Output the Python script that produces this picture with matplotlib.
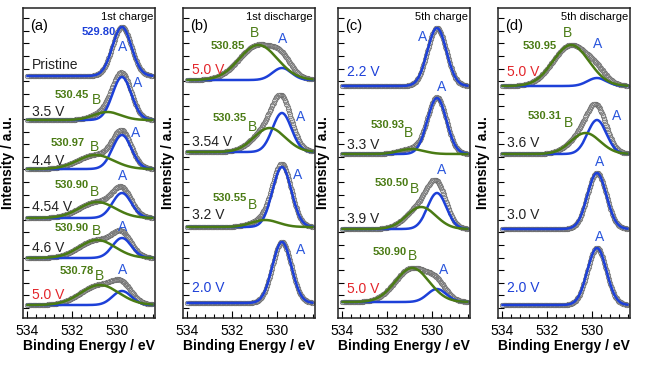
import numpy as np
import matplotlib.pyplot as plt
from matplotlib.ticker import MultipleLocator, FixedLocator

plt.rcParams['font.family'] = ['Liberation Sans', 'DejaVu Sans']

BLUE = '#1d40d8'
GREEN = '#4a7b14'
RED = '#e3262b'

# fitted O 1s components: A fixed at 529.80 eV, B position from the labels
POS_A = 529.80
WID_A = 0.42
energy = np.arange(528.45, 534.0001, 0.025)

# each panel lists its spectra from bottom to top
a_volts = ['5.0 V', '4.6 V', '4.54 V', '4.4 V', '3.5 V', 'Pristine']
a_offset = [13, 60, 100, 149, 198, 242]
a_amp_A = [14, 20, 25, 34, 43, 49]
a_pos_B = [530.78, 530.90, 530.90, 530.97, 530.45, None]
a_amp_B = [20, 18, 16, 14, 8, 0]
a_wid_B = [0.85, 0.8, 0.8, 0.8, 0.6, 0]

b_volts = ['2.0 V', '3.2 V', '3.54 V', '5.0 V']
b_offset = [15, 91, 166, 238]
b_amp_A = [61, 60, 39, 12]
b_pos_B = [None, 530.55, 530.35, 530.85]
b_amp_B = [0, 7, 24, 35]
b_wid_B = [0, 0.6, 0.7, 0.85]

c_volts = ['5.0 V', '3.9 V', '3.3 V', '2.2 V']
c_offset = [16, 89, 164, 232]
c_amp_A = [13, 36, 56, 58]
c_pos_B = [530.90, 530.50, 530.93, None]
c_amp_B = [34, 22, 5, 0]
c_wid_B = [0.75, 0.65, 0.55, 0]

d_volts = ['2.0 V', '3.0 V', '3.6 V', '5.0 V']
d_offset = [13, 89, 164, 232]
d_amp_A = [57, 56, 34, 8]
d_pos_B = [None, None, 530.31, 530.95]
d_amp_B = [0, 0, 21, 41]
d_wid_B = [0, 0, 0.65, 0.8]

# ---- layout (label positions in data coords) ----
a_volt_col = ['red', 'k', 'k', 'k', 'k', 'k']
a_volt_y = [23, 70, 111, 157, 206, 253]
a_val_xy = [(531.8, 47), (532.02, 90), (532.02, 133), (532.2, 175), (532.02, 223), (530.84, 286)]
a_B_xy = [(530.78, 42), (530.91, 87), (531.0, 126), (531.0, 171), (530.91, 218), None]
a_A_xy = [(529.76, 48), (529.76, 91), (529.76, 142), (529.18, 185), (529.09, 235), (529.76, 271)]

b_volt_col = ['blue', 'k', 'k', 'red']
b_volt_y = [30, 103, 176, 248]
b_val_xy = [None, (532.11, 120), (532.11, 200), (532.2, 272)]
b_B_xy = [None, (531.13, 113), (531.13, 191), (531.04, 285)]
b_A_xy = [(528.96, 68), (529.09, 143), (528.96, 201), (529.76, 279)]

c_volt_col = ['red', 'k', 'k', 'blue']
c_volt_y = [29, 99, 173, 246]
c_val_xy = [(531.89, 66), (531.82, 135), (532.0, 193), None]
c_B_xy = [(530.87, 62), (530.8, 129), (531.07, 185), None]
c_A_xy = [(529.49, 48), (529.58, 148), (529.58, 231), (530.42, 281)]

d_volt_col = ['blue', 'k', 'k', 'red']
d_volt_y = [30, 103, 175, 246]
d_val_xy = [None, None, (532.11, 202), (532.33, 272)]
d_B_xy = [None, None, (531.07, 195), (531.11, 285)]
d_A_xy = [(529.67, 81), (529.67, 156), (528.91, 202), (529.76, 274)]

panels = [
    dict(left=23, tag='(a)', title='1st charge', volts=a_volts, off=a_offset, aA=a_amp_A,
         pB=a_pos_B, aB=a_amp_B, wB=a_wid_B, vcol=a_volt_col, vy=a_volt_y,
         val=a_val_xy, Bxy=a_B_xy, Axy=a_A_xy),
    dict(left=183, tag='(b)', title='1st discharge', volts=b_volts, off=b_offset, aA=b_amp_A,
         pB=b_pos_B, aB=b_amp_B, wB=b_wid_B, vcol=b_volt_col, vy=b_volt_y,
         val=b_val_xy, Bxy=b_B_xy, Axy=b_A_xy),
    dict(left=338, tag='(c)', title='5th charge', volts=c_volts, off=c_offset, aA=c_amp_A,
         pB=c_pos_B, aB=c_amp_B, wB=c_wid_B, vcol=c_volt_col, vy=c_volt_y,
         val=c_val_xy, Bxy=c_B_xy, Axy=c_A_xy),
    dict(left=498, tag='(d)', title='5th discharge', volts=d_volts, off=d_offset, aA=d_amp_A,
         pB=d_pos_B, aB=d_amp_B, wB=d_wid_B, vcol=d_volt_col, vy=d_volt_y,
         val=d_val_xy, Bxy=d_B_xy, Axy=d_A_xy),
]

colmap = {'red': RED, 'blue': BLUE, 'k': '#222222'}


def gauss(e, c, amp, w):
    return amp * np.exp(-(e - c) ** 2 / (2 * w ** 2))


fig = plt.figure(figsize=(6.48, 3.65), dpi=100)
W, H = 648.0, 365.0

for p in panels:
    ax = fig.add_axes([p['left'] / W, 1 - 318 / H, 132 / W, 310 / H])
    for i, off in enumerate(p['off']):
        compA = gauss(energy, POS_A, p['aA'][i], WID_A)
        total = compA.copy()
        compB = None
        if p['pB'][i] is not None:
            compB = gauss(energy, p['pB'][i], p['aB'][i], p['wB'][i])
            total = total + compB
        ax.plot(energy, off + total, 'o', ms=3.3, mfc='#d9d9d9', mec='#5a5a5a', mew=0.4, zorder=2)
        ax.plot(energy, off + compA, color=BLUE, lw=1.8, zorder=3)
        if compB is not None:
            ax.plot(energy, off + compB, color=GREEN, lw=1.8, zorder=4)

        ax.text(533.82, p['vy'][i], p['volts'][i], color=colmap[p['vcol'][i]],
                fontsize=10, ha='left', va='center')
        if p['val'][i] is not None:
            if p['pB'][i] is not None:
                txt, col = '%.2f' % p['pB'][i], GREEN
            else:
                txt, col = '%.2f' % POS_A, BLUE
            ax.text(p['val'][i][0], p['val'][i][1], txt, color=col, fontsize=8,
                    fontweight='bold', ha='center', va='center')
        if p['Bxy'][i] is not None:
            ax.text(p['Bxy'][i][0], p['Bxy'][i][1], 'B', color=GREEN, fontsize=10,
                    ha='center', va='center')
        ax.text(p['Axy'][i][0], p['Axy'][i][1], 'A', color='#2a56dc', fontsize=10,
                ha='center', va='center')

    ax.text(533.89, 292, p['tag'], fontsize=10.5, ha='left', va='center')
    ax.text(528.42, 301, p['title'], fontsize=8, ha='right', va='center')

    ax.set_xlim(534.2, 528.33)
    ax.set_ylim(0, 310)
    ax.xaxis.set_major_locator(FixedLocator([534, 532, 530]))
    ax.xaxis.set_minor_locator(MultipleLocator(0.4))
    ax.yaxis.set_major_locator(FixedLocator(np.arange(10, 310, 12.6)))
    ax.set_yticklabels([])
    ax.tick_params(axis='x', which='major', direction='in', length=5, width=0.8,
                   labelsize=10, pad=4, top=False)
    ax.tick_params(axis='x', which='minor', direction='in', length=3, width=0.8, top=False)
    ax.tick_params(axis='y', which='major', direction='in', length=4, width=0.8, right=False)
    for s in ax.spines.values():
        s.set_linewidth(1.1)
        s.set_color('#222222')
    ax.set_xlabel('Binding Energy / eV', fontsize=10, fontweight='bold', labelpad=1)
    ax.set_ylabel('Intensity / a.u.', fontsize=10, fontweight='bold', labelpad=2)

fig.savefig('out.png', dpi=100)
